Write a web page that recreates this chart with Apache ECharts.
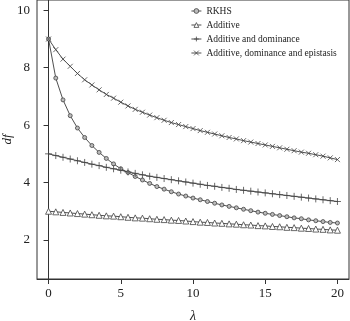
<!DOCTYPE html>
<html>
<head>
<meta charset="utf-8">
<script src="https://cdn.jsdelivr.net/npm/echarts@6/dist/echarts.min.js"></script>
<style>html,body{margin:0;padding:0;background:#fff;}#c{width:350px;height:321px;}</style>
</head>
<body>
<div id="c"></div>
<script>
const lambdas = [0,0.5,1,1.5,2,2.5,3,3.5,4,4.5,5,5.5,6,6.5,7,7.5,8,8.5,9,9.5,10,10.5,11,11.5,12,12.5,13,13.5,14,14.5,15,15.5,16,16.5,17,17.5,18,18.5,19,19.5,20];
const rkhs = [9.0,7.64,6.88,6.33,5.9,5.57,5.29,5.05,4.84,4.65,4.48,4.35,4.21,4.09,3.97,3.86,3.77,3.68,3.6,3.53,3.46,3.4,3.34,3.28,3.22,3.17,3.12,3.07,3.02,2.97,2.93,2.89,2.85,2.81,2.77,2.74,2.7,2.67,2.64,2.61,2.59];
const additive = [3.0,2.98,2.96,2.94,2.92,2.9,2.88,2.86,2.84,2.83,2.81,2.79,2.77,2.76,2.74,2.72,2.71,2.69,2.68,2.66,2.64,2.62,2.61,2.59,2.58,2.56,2.55,2.53,2.52,2.5,2.49,2.47,2.46,2.44,2.43,2.41,2.4,2.38,2.37,2.35,2.34];
const addDom = [5.0,4.94,4.88,4.82,4.76,4.7,4.64,4.59,4.53,4.48,4.43,4.37,4.32,4.27,4.22,4.18,4.14,4.1,4.06,4.02,3.98,3.94,3.9,3.87,3.83,3.8,3.76,3.73,3.7,3.67,3.64,3.61,3.58,3.55,3.52,3.49,3.46,3.43,3.4,3.37,3.34];
const addDomEpi = [9.0,8.63,8.3,8.05,7.8,7.58,7.4,7.23,7.07,6.94,6.8,6.67,6.55,6.45,6.35,6.26,6.17,6.09,6.02,5.95,5.88,5.81,5.75,5.69,5.63,5.57,5.52,5.46,5.41,5.36,5.31,5.26,5.21,5.16,5.11,5.06,5.02,4.97,4.92,4.86,4.8];
const seriesNames = ['RKHS','Additive','Additive and dominance','Additive, dominance and epistasis'];
const xTicks = [0,5,10,15,20];
const yTicks = [2,4,6,8,10];

const serif = 'Liberation Serif';
const lineCol = '#222';
const markCol = '#444';
function pairs(arr){ return lambdas.map((l,i)=>[l,arr[i]]); }
function mk(name, data, symbol, size, fill){
  return {
    type:'line', name:name, data:pairs(data), symbol:symbol, symbolSize:size,
    showSymbol:true, animation:false,
    lineStyle:{color:lineCol, width:0.8},
    itemStyle:{color:fill, borderColor:markCol, borderWidth:0.8},
    emphasis:{disabled:true}
  };
}
const chart = echarts.init(document.getElementById('c'), null, {renderer:'canvas'});
chart.setOption({
  animation:false,
  backgroundColor:'#fff',
  grid:{left:37, right:1, top:0, bottom:42, containLabel:false, outerBoundsMode:'none',
        show:true, borderColor:'#333', borderWidth:1, backgroundColor:'transparent'},
  legend:{
    orient:'vertical', left:191, top:6, padding:0, itemWidth:10, itemHeight:6, itemGap:4,
    textStyle:{fontFamily:serif, fontSize:9.5, color:'#222', lineHeight:10},
    itemStyle:{borderWidth:0.8},
    lineStyle:{width:0.8},
    data:seriesNames
  },
  xAxis:{
    type:'value', min:-0.8, max:20.8,
    name:'λ', nameLocation:'middle', nameGap:30,
    nameTextStyle:{fontFamily:serif, fontStyle:'italic', fontSize:14, color:'#222'},
    axisLine:{show:true, lineStyle:{color:'#333'}},
    axisTick:{show:true, inside:false, length:5, lineStyle:{color:'#333'}, customValues:xTicks},
    axisLabel:{fontFamily:serif, fontSize:13, color:'#222', margin:8, customValues:xTicks},
    splitLine:{show:false}
  },
  yAxis:{
    type:'value', min:0.64, max:10.36,
    name:'df', nameLocation:'middle', nameGap:23, nameRotate:90, nameMoveOverlap:false,
    nameTextStyle:{fontFamily:serif, fontStyle:'italic', fontSize:13, color:'#222'},
    axisLine:{show:true, lineStyle:{color:'#333'}},
    axisTick:{show:true, inside:false, length:5, lineStyle:{color:'#333'}, customValues:yTicks},
    axisLabel:{fontFamily:serif, fontSize:13, color:'#222', margin:7, customValues:yTicks},
    splitLine:{show:false}
  },
  series:[
    mk(seriesNames[0], rkhs, 'circle', 4, '#bbb'),
    mk(seriesNames[1], additive, 'triangle', 6, '#fff'),
    mk(seriesNames[2], addDom, 'path://M0,5L10,5M5,0L5,10', 7, 'none'),
    mk(seriesNames[3], addDomEpi, 'path://M0,0L10,10M10,0L0,10', 5, 'none')
  ]
});
</script>
</body>
</html>
